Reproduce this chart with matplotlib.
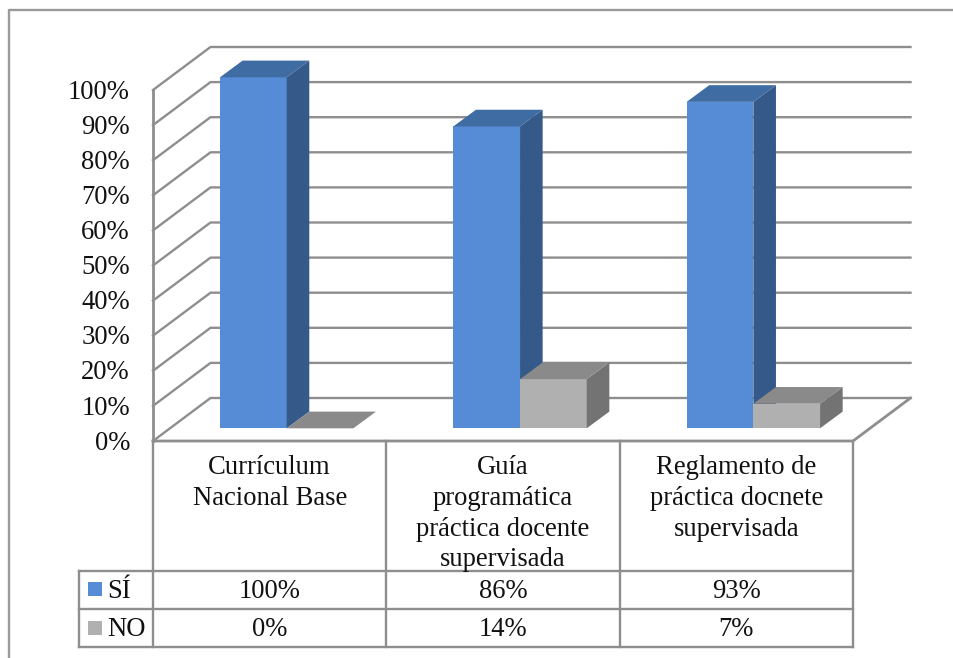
import matplotlib
matplotlib.use("Agg")
import matplotlib.pyplot as plt
from matplotlib.patches import Polygon, Rectangle

plt.rcParams['font.family'] = ['Liberation Serif', 'DejaVu Serif']

categories = ["Currículum\nNacional Base",
              "Guía\nprogramática\npráctica docente\nsupervisada",
              "Reglamento de\npráctica docnete\nsupervisada"]
si_values = [100, 86, 93]
no_values = [0, 14, 7]
si_labels = ["100%", "86%", "93%"]
no_labels = ["0%", "14%", "7%"]
y_ticks = list(range(0, 101, 10))

W, H = 954, 658
GRID = "#8E8E8E"
TXT = "#111111"
FS = 19.2

fig = plt.figure(figsize=(W / 100, H / 100), dpi=100, facecolor="white")

# overlay in pixel coordinates for frame and data table rules
px = fig.add_axes([0, 0, 1, 1], zorder=3)
px.set_xlim(0, W); px.set_ylim(H, 0); px.axis("off"); px.patch.set_alpha(0)

# main axes: front plane of the 3D box
L, R, Y0, Y100 = 153, 853, 441, 90
ax = fig.add_axes([L / W, 1 - Y0 / H, (R - L) / W, (Y0 - Y100) / H], zorder=2)
ax.set_xlim(0, 3); ax.set_ylim(0, 100); ax.axis("off"); ax.patch.set_alpha(0)

ux = (R - L) / 3            # pixels per category
uy = (Y0 - Y100) / 100      # pixels per percent
wall_dx, wall_dy = 57.5 / ux, 43 / uy
bar_dx, bar_dy = 22.6 / ux, 16.7 / uy
bar_x0, bar_y0 = 67 / ux, 12.7 / uy   # offset of the bars' front plane
bw = 66.7 / ux


def line(xs, ys, lw=1.7, z=1):
    ax.plot(xs, ys, color=GRID, lw=lw, clip_on=False, zorder=z, solid_capstyle="projecting")


for t in y_ticks:
    line([0, wall_dx, 3 + wall_dx], [t, t + wall_dy, t + wall_dy])
    ax.text(-23 / ux, t - 0.6, f"{t}%", ha="right", va="center", fontsize=FS, color=TXT, clip_on=False)
line([0, 0], [0, 100], lw=2)
line([0, 3, 3 + wall_dx], [0, 0, wall_dy], lw=2)


def box(x, v, front, side, top, z):
    b = bar_y0
    ax.add_patch(Rectangle((x, b), bw, v, fc=front, ec="none", clip_on=False, zorder=z))
    ax.add_patch(Polygon([(x + bw, b), (x + bw + bar_dx, b + bar_dy),
                          (x + bw + bar_dx, b + v + bar_dy), (x + bw, b + v)],
                         fc=side, ec="none", clip_on=False, zorder=z))
    ax.add_patch(Polygon([(x, b + v), (x + bw, b + v),
                          (x + bw + bar_dx, b + v + bar_dy), (x + bar_dx, b + v + bar_dy)],
                         fc=top, ec="none", clip_on=False, zorder=z))


for i, (s, n) in enumerate(zip(si_values, no_values)):
    box(i + bar_x0, s, "#558CD5", "#355A8A", "#3F6CA3", 3)
    box(i + bar_x0 + bw, n, "#B0B0B0", "#737373", "#8A8A8A", 4)

# outer frame: only top and left are visible
px.plot([9.5, 9.5, 954], [658, 10, 10], color="#9A9A9A", lw=1.7)

# data table
cols = [L + ux * i for i in range(4)]
rows = [441, 570.7, 609.3, 647.3]
LEG = 79.5
for x in cols:
    px.plot([x, x], [rows[0], rows[-1]], color=GRID, lw=1.7)
for y in rows[1:]:
    px.plot([LEG, R], [y, y], color=GRID, lw=1.7)
px.plot([LEG, LEG], [rows[1], rows[-1]], color=GRID, lw=1.7)

for i, c in enumerate(categories):
    xc = L + ux * (i + .5)
    px.text(xc, 455.5, c, ha="center", va="top", fontsize=FS, color=TXT, linespacing=1.29)
    px.text(xc, 591.5, si_labels[i], ha="center", va="center", fontsize=FS, color=TXT)
    px.text(xc, 630, no_labels[i], ha="center", va="center", fontsize=FS, color=TXT)

px.add_patch(Rectangle((88, 582.3), 14, 14, fc="#558CD5", ec="none"))
px.add_patch(Rectangle((88, 621), 14, 14, fc="#B0B0B0", ec="none"))
px.text(107.5, 591.5, "SÍ", ha="left", va="center", fontsize=FS, color=TXT)
px.text(107.5, 630, "NO", ha="left", va="center", fontsize=FS, color=TXT)

fig.savefig("out.png", dpi=100, facecolor="white")
